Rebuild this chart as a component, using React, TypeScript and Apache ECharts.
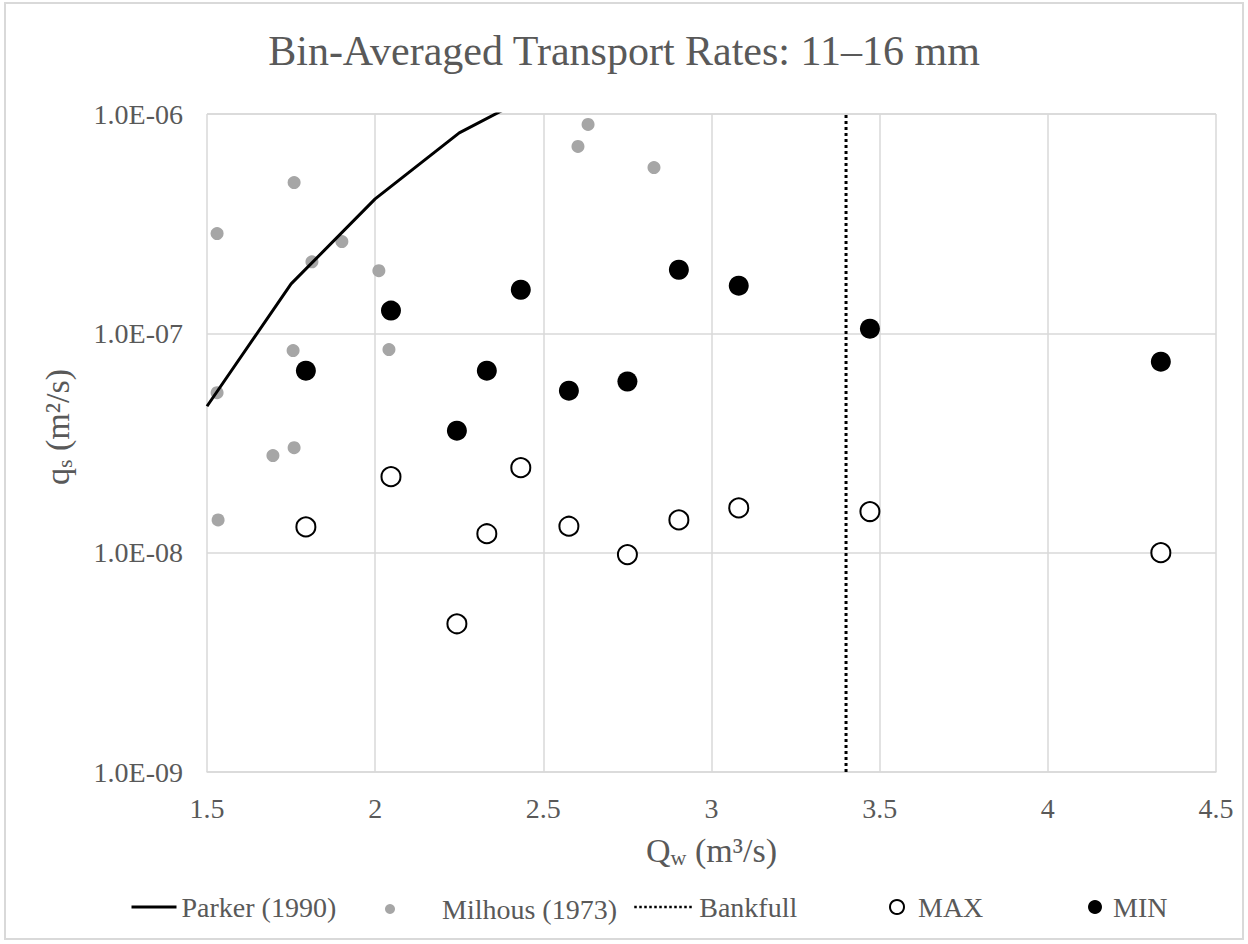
import React, { useEffect, useRef } from "react";
import * as echarts from "echarts";

// ---- Data ----
const parkerQw = [1.5, 1.75, 2.0, 2.25, 2.5];
const parkerQs = [4.65e-8, 1.68e-7, 4.1e-7, 8.2e-7, 1.3e-6];

const milhousQw = [1.53, 1.759, 1.812, 1.901, 2.011, 1.756, 2.041, 1.53, 1.696, 1.759, 1.533, 2.633, 2.603, 2.829];
const milhousQs = [2.85e-7, 4.87e-7, 2.12e-7, 2.62e-7, 1.93e-7, 8.34e-8, 8.43e-8, 5.36e-8, 2.77e-8, 3.01e-8, 1.41e-8, 8.96e-7, 7.11e-7, 5.7e-7];

const binQw = [1.794, 2.047, 2.243, 2.332, 2.433, 2.576, 2.75, 2.903, 3.081, 3.471, 4.336];
const qsMax = [1.31e-8, 2.22e-8, 4.74e-9, 1.22e-8, 2.44e-8, 1.32e-8, 9.8e-9, 1.41e-8, 1.6e-8, 1.54e-8, 1.0e-8];
const qsMin = [6.76e-8, 1.27e-7, 3.6e-8, 6.76e-8, 1.58e-7, 5.48e-8, 6.03e-8, 1.95e-7, 1.65e-7, 1.05e-7, 7.43e-8];

const bankfullQw = 3.4;

const xMin = 1.5;
const xMax = 4.5;
const xInterval = 0.5;
const yMin = 1e-9;
const yMax = 1e-6;

const titleText = "Bin-Averaged Transport Rates: 11–16 mm";
const seriesNames = ["Parker (1990)", "Milhous (1973)", "Bankfull", "MAX", "MIN"];

const FONT = "Liberation Serif";
const TXT = "#595959";
const GRID = "#d9d9d9";

const zip = (xs: number[], ys: number[]) => xs.map((x, i) => [x, ys[i]]);

const fmtY = (v: number) => {
  const e = Math.round(Math.log10(v));
  return "{t|1.0E" + (e < 0 ? "-" : "+") + String(Math.abs(e)).padStart(2, "0") + "}";
};
const fmtX = (v: number) => "{t|" + String(v) + "}";

export default function App() {
  const ref = useRef<HTMLDivElement>(null);
  useEffect(() => {
    if (!ref.current) return;
    const chart = echarts.init(ref.current, undefined, { renderer: "svg" });
    const lt = (padLeft: number) => ({
      fontFamily: FONT,
      fontSize: 28,
      color: TXT,
      padding: [0, 0, 0, padLeft],
    });
    const legendTop = 893;
    const hiddenSymbol = { opacity: 0, color: "rgba(0,0,0,0)", borderWidth: 0 };
    const tickRich = { t: { fontFamily: FONT, fontSize: 28, color: TXT } };
    const option: any = {
      animation: false,
      backgroundColor: "#ffffff",
      textStyle: { fontFamily: FONT },
      title: {
        text: titleText,
        left: "center",
        top: 25,
        textStyle: { fontFamily: FONT, fontSize: 42, fontWeight: "normal", color: TXT },
      },
      graphic: [
        {
          type: "rect",
          shape: { x: 5, y: 3, width: 1238, height: 936 },
          style: { fill: "none", stroke: GRID, lineWidth: 2 },
          silent: true,
          z: -1,
        },
        {
          type: "text",
          x: 57,
          y: 427,
          rotation: Math.PI / 2,
          style: {
            text: "{a|q}{b|s}{a| (m²/s)}",
            align: "center",
            verticalAlign: "middle",
            rich: {
              a: { fontFamily: FONT, fontSize: 34, fill: TXT, lineHeight: 36, verticalAlign: "middle" },
              b: { fontFamily: FONT, fontSize: 22, fill: TXT, lineHeight: 14, verticalAlign: "bottom" },
            },
          },
          silent: true,
        },
      ],
      grid: { left: 207, right: 32, top: 114, bottom: 172 },
      legend: [
        {
          data: [seriesNames[0]], left: 130, top: legendTop, padding: 0,
          itemWidth: 45, itemHeight: 14, textStyle: lt(0),
          lineStyle: { width: 3 },
          itemStyle: hiddenSymbol,
        },
        {
          data: [seriesNames[1]], left: 385, top: legendTop + 2, padding: 0,
          itemWidth: 10, itemHeight: 10, textStyle: lt(42),
        },
        {
          data: [seriesNames[2]], left: 633, top: legendTop, padding: 0,
          itemWidth: 60, itemHeight: 14, textStyle: lt(0),
          lineStyle: { width: 2.5 },
          itemStyle: hiddenSymbol,
        },
        {
          data: [seriesNames[3]], left: 889, top: legendTop, padding: 0,
          itemWidth: 14, itemHeight: 14, textStyle: lt(9),
        },
        {
          data: [seriesNames[4]], left: 1088, top: legendTop, padding: 0,
          itemWidth: 14, itemHeight: 14, textStyle: lt(6),
        },
      ],
      xAxis: {
        type: "value",
        min: xMin,
        max: xMax,
        interval: xInterval,
        name: "{a|Q}{b|w}{a| (m³/s)}",
        nameLocation: "middle",
        nameGap: 60,
        nameTextStyle: {
          rich: {
            a: { fontFamily: FONT, fontSize: 34, color: TXT, lineHeight: 36, verticalAlign: "middle" },
            b: { fontFamily: FONT, fontSize: 22, color: TXT, lineHeight: 14, verticalAlign: "bottom" },
          },
        },
        axisLine: { show: true, lineStyle: { color: GRID, width: 1.5 } },
        axisTick: { show: false },
        axisLabel: { fontFamily: FONT, fontSize: 28, color: TXT, margin: 22, formatter: fmtX, rich: tickRich },
        splitLine: { show: true, lineStyle: { color: GRID, width: 1.5 } },
      },
      yAxis: {
        type: "log",
        logBase: 10,
        min: yMin,
        max: yMax,
        axisLine: { show: false },
        axisTick: { show: false },
        axisLabel: { fontFamily: FONT, fontSize: 28, color: TXT, margin: 24, formatter: fmtY, rich: tickRich },
        splitLine: { show: true, lineStyle: { color: GRID, width: 1.5 } },
        minorSplitLine: { show: false },
      },
      series: [
        {
          name: seriesNames[0],
          type: "line",
          data: zip(parkerQw, parkerQs),
          symbol: "none",
          clip: true,
          lineStyle: { color: "#000000", width: 3 },
          itemStyle: { color: "#000000" },
        },
        {
          name: seriesNames[1],
          type: "scatter",
          data: zip(milhousQw, milhousQs),
          symbol: "circle",
          symbolSize: 13,
          itemStyle: { color: "#a6a6a6", opacity: 1 },
        },
        {
          name: seriesNames[2],
          type: "line",
          data: [
            [bankfullQw, yMin],
            [bankfullQw, yMax],
          ],
          symbol: "none",
          lineStyle: { color: "#000000", width: 3, type: "dotted" },
          itemStyle: { color: "#000000" },
        },
        {
          name: seriesNames[3],
          type: "scatter",
          data: zip(binQw, qsMax),
          symbol: "circle",
          symbolSize: 19,
          itemStyle: { color: "#ffffff", borderColor: "#000000", borderWidth: 2, opacity: 1 },
        },
        {
          name: seriesNames[4],
          type: "scatter",
          data: zip(binQw, qsMin),
          symbol: "circle",
          symbolSize: 20,
          itemStyle: { color: "#000000", opacity: 1 },
        },
      ],
    };
    chart.setOption(option);
    return () => chart.dispose();
  }, []);
  return (
    <div
      ref={ref}
      style={{ position: "absolute", left: 0, top: 0, width: 1248, height: 944, background: "#fff" }}
    />
  );
}
